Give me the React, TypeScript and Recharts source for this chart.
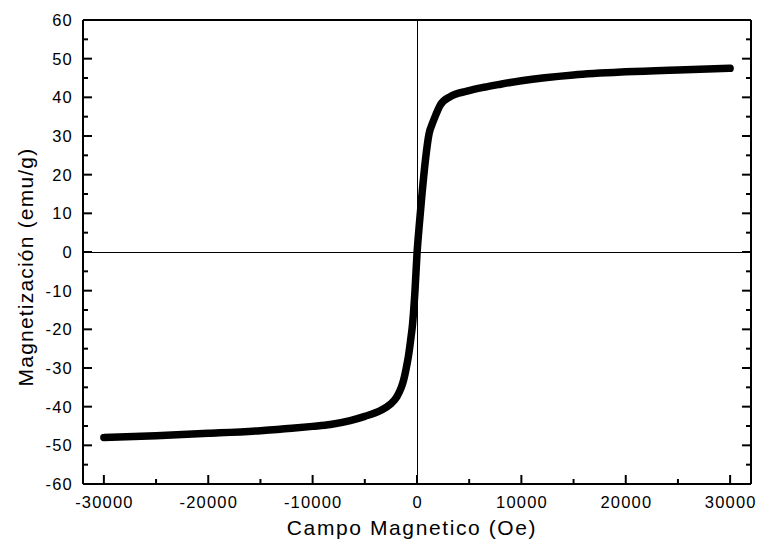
import React from 'react';
import { LineChart, Line, XAxis, YAxis, ReferenceLine } from 'recharts';

// Applied field (Oe) and magnetization (emu/g)
const fieldOe = [
  -30000, -25000, -20000, -15000, -12000, -10000, -8300, -6400, -5000, -3500,
  -2560, -1920, -1500, -1280, -1050, -830, -620, -420, -190, 0,
  200, 480, 800, 1150, 1500, 1820, 2230, 3190, 4790, 6400,
  8000, 10000, 15000, 20000, 25000, 30000,
];
const magnetization = [
  -48.0, -47.5, -46.9, -46.2, -45.6, -45.1, -44.6, -43.6, -42.5, -41.0,
  -39.4, -37.4, -35.0, -33.1, -30.3, -27.1, -23.0, -18.5, -9.9, -0.5,
  6.4, 15.0, 23.6, 30.5, 33.4, 35.6, 38.0, 40.2, 41.6, 42.6,
  43.4, 44.3, 45.8, 46.6, 47.1, 47.5,
];

const xTicks = [-30000, -25000, -20000, -15000, -10000, -5000, 0, 5000, 10000, 15000, 20000, 25000, 30000];
const yTicks = [-60, -55, -50, -45, -40, -35, -30, -25, -20, -15, -10, -5, 0, 5, 10, 15, 20, 25, 30, 35, 40, 45, 50, 55, 60];
const xDomain = [-32000, 32000];
const yDomain = [-60, 60];
const xTitle = 'Campo Magnetico (Oe)';
const yTitle = 'Magnetización (emu/g)';

const data = fieldOe.map((h, i) => ({ h, m: magnetization[i] }));

const FONT = '"Liberation Sans", Arial, Helvetica, sans-serif';
const MAJOR = 9;
const MINOR = 5;
const TICK_FONT = 16.5;
const TICK_SPACING = 1.2;

const isMajorX = (v: number) => v % 10000 === 0;
const isMajorY = (v: number) => v % 10 === 0;

const BottomTick = (props: any) => {
  const { x, y, payload } = props;
  const major = isMajorX(payload.value);
  return (
    <g>
      <line x1={x} x2={x} y1={y} y2={y - (major ? MAJOR : MINOR)} stroke="#000" strokeWidth={2} />
      {major && (
        <text x={x + TICK_SPACING / 2} y={y + 24} textAnchor="middle" fontSize={TICK_FONT} fontFamily={FONT} letterSpacing={TICK_SPACING} fill="#000">
          {payload.value}
        </text>
      )}
    </g>
  );
};

const TopTick = (props: any) => {
  const { x, y, payload } = props;
  const major = isMajorX(payload.value);
  return <line x1={x} x2={x} y1={y} y2={y + (major ? MAJOR : MINOR)} stroke="#000" strokeWidth={2} />;
};

const LeftTick = (props: any) => {
  const { x, y, payload } = props;
  const major = isMajorY(payload.value);
  return (
    <g>
      <line x1={x} x2={x + (major ? MAJOR : MINOR)} y1={y} y2={y} stroke="#000" strokeWidth={2} />
      {major && (
        <text x={x - 10} y={y + 6} textAnchor="end" fontSize={TICK_FONT} fontFamily={FONT} letterSpacing={TICK_SPACING} fill="#000">
          {payload.value}
        </text>
      )}
    </g>
  );
};

const RightTick = (props: any) => {
  const { x, y, payload } = props;
  const major = isMajorY(payload.value);
  return <line x1={x} x2={x - (major ? MAJOR : MINOR)} y1={y} y2={y} stroke="#000" strokeWidth={2} />;
};

const XTitle = (props: any) => {
  const vb = props && props.viewBox ? props.viewBox : { x: 83, y: 484, width: 668, height: 62 };
  return (
    <text x={vb.x + vb.width / 2 - 5} y={vb.y + 51} textAnchor="middle" fontSize={21} fontFamily={FONT} letterSpacing={1.6} fill="#000">
      {xTitle}
    </text>
  );
};

const YTitle = (props: any) => {
  const vb = props && props.viewBox ? props.viewBox : { x: 0, y: 20, width: 83, height: 464 };
  const cx = vb.x + 33;
  const cy = vb.y + vb.height / 2 + 15;
  return (
    <text x={cx} y={cy} transform={`rotate(-90, ${cx}, ${cy})`} textAnchor="middle" fontSize={21} fontFamily={FONT} letterSpacing={1.2} fill="#000">
      {yTitle}
    </text>
  );
};

const axisLine = { stroke: '#000', strokeWidth: 2 };

export default function App() {
  return (
    <div style={{ position: 'absolute', left: 0, top: 0, background: '#fff' }}>
      <LineChart width={757} height={546} data={data} margin={{ top: 19, right: 5, bottom: 0, left: 0 }}>
        <XAxis
          type="number"
          dataKey="h"
          domain={xDomain}
          allowDataOverflow
          ticks={xTicks}
          interval={0}
          tickSize={0}
          tickMargin={0}
          tickLine={false}
          tick={BottomTick}
          axisLine={axisLine}
          stroke="#000"
          height={62}
          label={XTitle}
        />
        <XAxis
          xAxisId="top"
          orientation="top"
          type="number"
          domain={xDomain}
          allowDataOverflow
          ticks={xTicks}
          interval={0}
          tickSize={0}
          tickMargin={0}
          tickLine={false}
          tick={TopTick}
          axisLine={axisLine}
          stroke="#000"
          height={1}
        />
        <YAxis
          type="number"
          domain={yDomain}
          allowDataOverflow
          ticks={yTicks}
          interval={0}
          tickSize={0}
          tickMargin={0}
          tickLine={false}
          tick={LeftTick}
          axisLine={axisLine}
          stroke="#000"
          width={83}
          label={YTitle}
        />
        <YAxis
          yAxisId="right"
          orientation="right"
          type="number"
          domain={yDomain}
          allowDataOverflow
          ticks={yTicks}
          interval={0}
          tickSize={0}
          tickMargin={0}
          tickLine={false}
          tick={RightTick}
          axisLine={axisLine}
          stroke="#000"
          width={1}
        />
        <ReferenceLine x={0} stroke="#000" strokeWidth={1} shapeRendering="crispEdges" />
        <ReferenceLine y={0} stroke="#000" strokeWidth={1} shapeRendering="crispEdges" />
        <Line
          dataKey="m"
          type="monotone"
          stroke="#000"
          strokeWidth={7.5}
          strokeLinecap="round"
          strokeLinejoin="round"
          dot={false}
          isAnimationActive={false}
        />
      </LineChart>
    </div>
  );
}
